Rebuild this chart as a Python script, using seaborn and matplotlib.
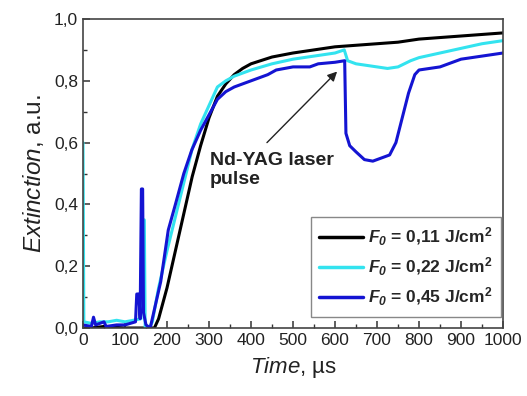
import numpy as np
import pandas as pd
import matplotlib
matplotlib.use("Agg")
import matplotlib.pyplot as plt
import seaborn as sns
from matplotlib.ticker import MultipleLocator, FuncFormatter

# Values (time in us, extinction in a.u.)
t_011 = [0, 20, 50, 100, 140, 160, 170, 180, 200, 220, 240, 260, 280, 300, 320, 340,
         360, 380, 400, 450, 500, 550, 600, 650, 700, 750, 800, 850, 900, 950, 1000]
e_011 = [0.0, 0.0, 0.005, 0.0, 0.0, 0.0, 0.0, 0.03, 0.13, 0.25, 0.37, 0.49, 0.59, 0.68, 0.75, 0.79,
         0.82, 0.84, 0.855, 0.877, 0.89, 0.90, 0.91, 0.915, 0.92, 0.925, 0.935, 0.94, 0.945, 0.95, 0.955]

t_022 = [0, 2, 20, 40, 60, 80, 100, 120, 138, 140, 146, 148, 158, 165, 180, 200, 220, 240,
         260, 280, 300, 320, 340, 360, 400, 450, 500, 550, 600, 622, 630, 650, 700, 725, 750,
         780, 800, 850, 900, 950, 1000]
e_022 = [0.6, 0.02, 0.015, 0.02, 0.02, 0.025, 0.02, 0.025, 0.03, 0.35, 0.35, 0.0, 0.0, 0.02, 0.13,
         0.25, 0.36, 0.47, 0.58, 0.66, 0.72, 0.78, 0.80, 0.815, 0.835, 0.855, 0.87, 0.88, 0.89, 0.90,
         0.865, 0.855, 0.845, 0.84, 0.845, 0.865, 0.875, 0.89, 0.905, 0.92, 0.93]

t_045 = [0, 20, 25, 30, 50, 55, 80, 100, 125, 128, 133, 136, 139, 142, 144, 150, 160, 170, 185,
         203, 220, 240, 259, 280, 300, 320, 340, 360, 380, 400, 420, 440, 460, 480, 500, 540,
         560, 600, 623, 626, 635, 650, 670, 690, 710, 730, 745, 760, 775, 790, 800, 850, 880,
         900, 950, 1000]
e_045 = [0.01, 0.005, 0.035, 0.01, 0.02, 0.005, 0.01, 0.01, 0.02, 0.11, 0.11, 0.03, 0.45, 0.45,
         0.05, 0.01, 0.0, 0.06, 0.15, 0.317, 0.40, 0.50, 0.576, 0.64, 0.69, 0.74, 0.765, 0.78,
         0.79, 0.80, 0.81, 0.82, 0.835, 0.84, 0.845, 0.845, 0.855, 0.86, 0.865, 0.63, 0.59, 0.57,
         0.545, 0.54, 0.55, 0.56, 0.60, 0.68, 0.76, 0.82, 0.835, 0.845, 0.86, 0.87, 0.88, 0.89]

labels = [r"$\mathbfit{F}_{\mathbfit{0}}$ = 0,11 J/cm$^{\mathbf{2}}$",
          r"$\mathbfit{F}_{\mathbfit{0}}$ = 0,22 J/cm$^{\mathbf{2}}$",
          r"$\mathbfit{F}_{\mathbfit{0}}$ = 0,45 J/cm$^{\mathbf{2}}$"]
colors = ["black", "#33e3ef", "#1414d2"]

sns.set_style("ticks")
plt.rcParams["font.family"] = ["Liberation Sans", "DejaVu Sans"]
plt.rcParams["mathtext.fontset"] = "custom"
plt.rcParams["mathtext.rm"] = "Liberation Sans"
plt.rcParams["mathtext.it"] = "Liberation Sans:italic"
plt.rcParams["mathtext.bf"] = "Liberation Sans:bold"
plt.rcParams["mathtext.bfit"] = "Liberation Sans:italic:bold"

fig = plt.figure(figsize=(5.27, 3.96), dpi=100)
ax = fig.add_axes([0.1575, 0.1717, 0.797, 0.7803])

for tt, ee, lab, col in zip([t_011, t_022, t_045], [e_011, e_022, e_045], labels, colors):
    df = pd.DataFrame({"t": tt, "e": ee})
    sns.lineplot(data=df, x="t", y="e", ax=ax, color=col, linewidth=2.2,
                 label=lab, estimator=None, sort=False)

ax.set_xlim(0, 1000)
ax.set_ylim(0, 1.0)
ax.xaxis.set_major_locator(MultipleLocator(100))
ax.xaxis.set_minor_locator(MultipleLocator(50))
ax.yaxis.set_major_locator(MultipleLocator(0.2))
ax.yaxis.set_minor_locator(MultipleLocator(0.1))
ax.yaxis.set_major_formatter(FuncFormatter(lambda v, p: f"{v:.1f}".replace(".", ",")))
ax.tick_params(which="major", direction="in", length=5, width=1.1, labelsize=12.5,
               colors="#333333", labelcolor="#222222")
ax.tick_params(which="minor", direction="in", length=3, width=1.0, colors="#333333")
for s in ax.spines.values():
    s.set_linewidth(1.2)
    s.set_color("#444444")

ax.set_xlabel(r"$\mathit{Time}$, µs", fontsize=16, color="#222222", labelpad=5)
ax.set_ylabel(r"$\mathit{Extinction}$, a.u.", fontsize=17.5, color="#222222", labelpad=6)

ax.text(302, 0.57, "Nd-YAG laser\npulse", fontsize=14, fontweight="bold",
        color="#222222", va="top", ha="left", linespacing=1.2)
# arrow from the label to the moment of the laser pulse
ax.annotate("", xy=(605, 0.83), xytext=(438, 0.60),
            arrowprops=dict(arrowstyle="-|>", color="#222222", lw=1.0, shrinkA=0, shrinkB=0,
                            mutation_scale=14))

leg = ax.legend(loc="lower right", bbox_to_anchor=(0.995, 0.036), borderaxespad=0,
                prop={"weight": "bold", "size": 12.5}, handlelength=2.5, labelspacing=0.45,
                fancybox=False, framealpha=1, edgecolor="#888888", borderpad=0.5,
                handletextpad=0.3)
for line in leg.get_lines():
    line.set_linewidth(2.5)

fig.savefig("out.png", dpi=100)
